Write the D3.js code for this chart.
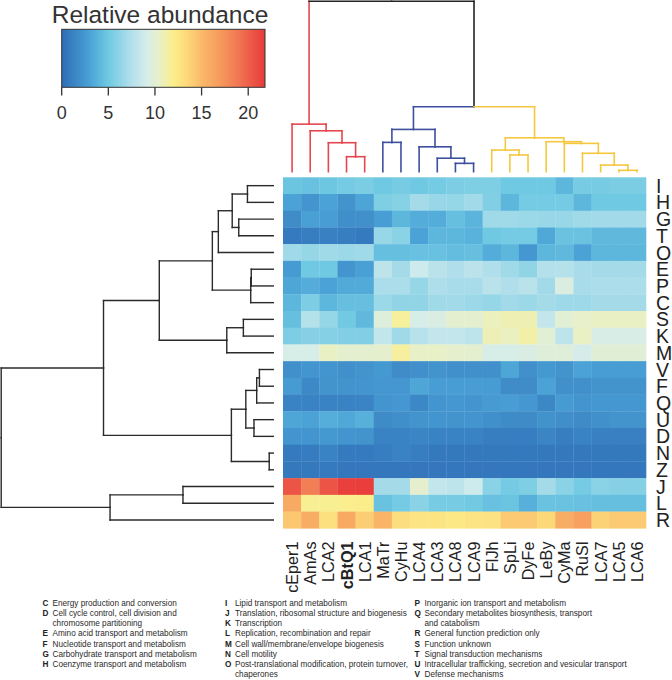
<!DOCTYPE html>
<html><head><meta charset="utf-8">
<script src="https://cdn.jsdelivr.net/npm/d3@7"></script>
<style>body{margin:0;background:#fff}svg{display:block}text{font-family:"Liberation Sans",Arial,Helvetica,sans-serif}</style>
</head><body><svg id="c" width="672" height="680"></svg>
<script>
// ---------- DATA ----------
const genomes = ["cEper1","AmAs","LCA2","cBtQ1","LCA1","MaTr","CyHu","LCA4","LCA3","LCA8","LCA9","FlJh","SpLi","DyFe","LeBy","CyMa","RuSl","LCA7","LCA5","LCA6"];
const boldGenomes = ["cBtQ1"];
const cogs = ["I","H","G","T","O","E","P","C","S","K","M","V","F","Q","U","D","N","Z","J","L","R"];
// relative abundance (%) per COG row (same order as cogs), columns in genome order
const abundance = [
  [4.8,4.6,4.9,5.2,5.4, 5.0,5.3,5.0,5.2,5.5,5.6, 5.6,5.0,5.0,5.0,4.0,5.3,5.3,5.4,5.4], // I
  [3.0,2.3,3.0,2.2,3.1, 5.6,5.9,7.0,6.5,6.4,6.9, 5.7,4.0,5.2,5.2,5.2,4.0,5.0,5.0,5.0], // H
  [1.8,2.9,2.8,1.9,2.0, 2.8,4.0,3.5,3.5,4.5,3.9, 6.8,6.8,6.6,6.5,6.5,6.8,6.9,6.9,6.9], // G
  [0.8,1.0,1.1,1.0,0.8, 6.5,6.0,3.0,4.0,4.0,3.8, 5.0,5.2,5.2,3.3,4.7,4.7,4.2,4.2,4.2], // T
  [6.8,6.4,6.8,6.6,6.8, 4.5,4.5,4.6,4.6,4.4,4.5, 3.5,4.0,2.4,4.0,4.2,3.0,4.0,4.0,4.0], // O
  [2.6,5.0,5.0,2.3,2.9, 8.0,7.0,8.7,7.8,7.4,7.9, 7.4,6.8,6.2,7.5,7.6,7.1,7.0,7.0,7.0], // E
  [3.2,3.5,3.0,3.4,3.4, 7.2,7.2,6.4,7.3,7.1,7.1, 7.8,7.4,7.8,6.9,9.5,7.1,7.2,7.2,7.2], // P
  [4.0,5.5,4.0,4.5,4.5, 6.6,6.2,6.2,6.8,6.9,6.6, 6.4,6.9,6.6,7.0,6.7,6.7,7.0,7.0,7.0], // C
  [4.5,7.6,6.4,5.1,4.2, 9.7,11.6,9.2,9.4,10.2,10.2, 10.8,11.0,11.0,8.2,10.0,10.4,10.6,10.6,10.6], // S
  [5.5,5.8,5.8,5.7,5.7, 8.2,6.8,7.7,8.2,8.2,8.0, 10.9,10.7,11.3,10.0,8.0,10.6,9.3,9.3,9.3], // K
  [9.2,9.2,10.6,10.2,10.2, 10.3,11.5,10.5,10.5,10.3,10.2, 9.2,9.2,9.4,9.8,9.8,9.1,9.9,9.9,9.9], // M
  [2.0,2.3,2.3,2.0,2.2, 2.5,1.8,2.0,2.2,2.0,2.0, 2.0,3.2,2.0,2.5,2.2,3.0,2.8,2.8,2.8], // V
  [2.6,1.6,2.2,2.2,2.3, 2.4,2.4,3.2,2.8,2.8,2.8, 2.7,1.8,1.8,3.0,2.0,2.0,2.2,2.2,2.2], // F
  [1.2,1.2,1.2,1.2,1.3, 2.3,2.4,1.5,2.3,2.4,2.3, 2.6,2.8,2.4,1.5,2.6,2.3,2.4,2.4,2.4], // Q
  [3.2,3.0,3.6,3.3,3.7, 1.7,1.9,2.2,2.3,2.2,2.3, 2.0,1.7,1.7,2.1,1.9,1.7,2.0,2.2,2.2], // U
  [2.3,2.3,2.5,2.3,2.2, 1.2,1.2,1.4,1.2,1.2,1.2, 1.0,1.0,1.0,1.4,1.0,1.2,1.1,1.1,1.1], // D
  [0.8,0.9,1.2,0.8,0.8, 1.0,1.2,1.0,0.7,0.7,0.7, 0.7,0.7,0.7,0.7,0.7,0.7,0.7,0.7,0.7], // N
  [0.7,0.7,0.8,0.6,0.6, 0.6,0.6,0.6,0.6,0.6,0.6, 0.6,0.6,0.6,0.6,0.6,0.6,0.6,0.6,0.6], // Z
  [20.5,18.5,20.5,21.5,21.6, 7.0,7.0,10.3,8.2,8.0,8.7, 6.0,5.2,5.6,7.0,6.0,5.2,6.0,5.8,5.8], // J
  [16.0,11.8,11.8,11.9,12.0, 4.7,5.2,6.0,5.3,5.3,5.1, 4.6,4.8,3.7,4.7,4.7,4.6,4.5,4.5,4.5], // L
  [14.3,15.8,13.0,16.0,14.0, 15.3,13.1,12.7,12.7,12.4,12.7, 12.8,14.2,14.2,13.5,15.8,16.6,13.8,14.2,14.2] // R
];
const legendTicks = [0,5,10,15,20];
const legendMax = 21.8;
const colorStopValues = [0,3,5,7.5,9,10.5,12,13.5,15,17,19,21.8];
const colorStopColors = ["#2e6cb6","#4aa2d6","#6fc9e2","#b3e0eb","#d4ecec","#e8f0c8","#fbee8a","#fdd879","#fab96a","#f69a5c","#f17553","#e83a3a"];

// column dendrogram (merge heights, arbitrary units; k = cluster)
const colTree = {h:100, c:[
  {h:27.9, k:1, c:["cEper1", {h:24.0, c:["AmAs", {h:17.0, c:["LCA2", {h:8.8, c:["cBtQ1","LCA1"]}]}]}]},
  {h:38.1, c:[
    {h:24.8, k:2, c:[{h:17.2, c:["MaTr","CyHu"]}, {h:14.6, c:["LCA4", {h:7.9, c:["LCA3", {h:4.9, c:["LCA8","LCA9"]}]}]}]},
    {h:19.9, k:3, c:[{h:12.7, c:["FlJh", {h:9.8, c:["SpLi","DyFe"]}]},
                     {h:17.6, c:["LeBy", {h:16.6, c:["CyMa", {h:10.8, c:["RuSl", {h:3.9, c:["LCA7", {h:0.8, c:["LCA5","LCA6"]}]}]}]}]}]}
  ]}
]};
// row dendrogram
const rowTree = {h:100, c:[
  {h:62.4, c:[
    {h:41.9, c:[
      {h:22.4, c:[
        {h:20.2, c:[{h:15.1, c:[{h:9.5, c:["I","H"]}, {h:12.7, c:["G","T"]}]}, "O"]},
        {h:8.3, c:[{h:8.1, c:["E","P"]}, "C"]}
      ]},
      {h:17.1, c:[{h:11.0, c:["S","K"]}, "M"]}
    ]},
    {h:15.4, c:[
      {h:10.1, c:[{h:6.1, c:[{h:5.1, c:["V","F"]}, "Q"]}, {h:7.1, c:["U","D"]}]},
      {h:1.5, c:["N","Z"]}
    ]}
  ]},
  {h:60.0, c:[{h:33.2, c:["J","L"]}, "R"]}
]};

const legendCols = [
  [["C","Energy production and conversion"],["D","Cell cycle control, cell division and","chromosome partitioning"],["E","Amino acid transport and metabolism"],["F","Nucleotide transport and metabolism"],["G","Carbohydrate transport and metabolism"],["H","Coenzyme transport and metabolism"]],
  [["I","Lipid transport and metabolism"],["J","Translation, ribosomal structure and biogenesis"],["K","Transcription"],["L","Replication, recombination and repair"],["M","Cell wall/membrane/envelope biogenesis"],["N","Cell motility"],["O","Post-translational modification, protein turnover,","chaperones"]],
  [["P","Inorganic ion transport and metabolism"],["Q","Secondary metabolites biosynthesis, transport","and catabolism"],["R","General function prediction only"],["S","Function unknown"],["T","Signal transduction mechanisms"],["U","Intracellular trafficking, secretion and vesicular transport"],["V","Defense mechanisms"]]
];

// ---------- DRAW ----------
const svg = d3.select("#c");
const clusterColor = {0:"#222222",1:"#e4474f",2:"#3e4f9d",3:"#f5c73e"};
const color = d3.scaleLinear().domain(colorStopValues).range(colorStopColors).interpolate(d3.interpolateRgb).clamp(true);

const x = d3.scaleBand().domain(genomes).range([283,646]);
const y = d3.scaleBand().domain(cogs).range([177.3,528.3]);

// heatmap
const cells = [];
abundance.forEach((row,i)=>row.forEach((v,j)=>cells.push({r:cogs[i],c:genomes[j],v})));
svg.append("g").selectAll("rect").data(cells).join("rect")
  .attr("x",d=>x(d.c)).attr("y",d=>y(d.r))
  .attr("width",x.bandwidth()+0.3).attr("height",y.bandwidth()+0.3)
  .attr("fill",d=>color(d.v));

// column labels
svg.append("g").selectAll("text").data(genomes).join("text")
  .attr("transform",d=>`translate(${x(d)+x.bandwidth()/2+6},541.5) rotate(-90)`)
  .attr("text-anchor","end").attr("font-size",16.2).attr("fill","#222")
  .attr("font-weight",d=>boldGenomes.includes(d)?"bold":"normal")
  .text(d=>d);

// row labels
svg.append("g").selectAll("text").data(cogs).join("text")
  .attr("x",656).attr("y",d=>y(d)+y.bandwidth()/2+7)
  .attr("font-size",19.5).attr("fill","#222").text(d=>d);

// dendrogram layout helper
function layout(node, pos, parentK){
  if (typeof node === "string") return {leaf:node, h:0, p:pos(node), k:parentK};
  const k = node.k !== undefined ? node.k : parentK;
  const kids = node.c.map(ch=>layout(ch,pos,k));
  return {h:node.h, p:d3.mean(kids,d=>d.p), k, kids};
}
function segments(n, out, isRoot){
  if (!n.kids) return out;
  n.kids.forEach(ch=>{
    out.push({type:"v", p:ch.p, h0:ch.h, h1:n.h, k:ch.k});
    out.push({type:"h", p0:n.p, p1:ch.p, h:n.h, k:isRoot?n.k:ch.k});
    segments(ch,out,false);
  });
  return out;
}
// column dendrogram
const colRoot = layout(colTree, g=>x(g)+x.bandwidth()/2, 0);
const ch = d3.scaleLinear().domain([0,100]).range([171.7,1.2]);
const colSegs = segments(colRoot, [], true);
svg.append("g").attr("fill","none").attr("stroke-width",1.6).attr("stroke-linecap","square")
  .selectAll("path").data(colSegs).join("path")
  .attr("stroke",d=>clusterColor[d.k])
  .attr("d",d=>d.type==="v" ? `M${d.p},${ch(d.h0)}V${ch(d.h1)}` : `M${d.p0},${ch(d.h)}H${d.p1}`);

// row dendrogram
const rowRoot = layout(rowTree, r=>y(r)+y.bandwidth()/2, 0);
const rh = d3.scaleLinear().domain([0,100]).range([273.3,1.2]);
const rowSegs = segments(rowRoot, [], true);
svg.append("g").attr("fill","none").attr("stroke","#2a2a2a").attr("stroke-width",1.4).attr("stroke-linecap","square")
  .selectAll("path").data(rowSegs).join("path")
  .attr("d",d=>d.type==="v" ? `M${rh(d.h0)},${d.p}H${rh(d.h1)}` : `M${rh(d.h)},${d.p0}V${d.p1}`);

// color key
const kx = d3.scaleLinear().domain([0,legendMax]).range([61.7,265]);
const grad = svg.append("defs").append("linearGradient").attr("id","kg").attr("x1","0%").attr("x2","100%");
d3.range(0,41).forEach(i=>{
  const v = legendMax*i/40;
  grad.append("stop").attr("offset",(i/40*100)+"%").attr("stop-color",color(v));
});
svg.append("rect").attr("x",kx(0)).attr("y",29.3).attr("width",kx(legendMax)-kx(0)).attr("height",58)
  .attr("fill","url(#kg)").attr("stroke","#333").attr("stroke-width",1);
const tg = svg.append("g").selectAll("g").data(legendTicks).join("g");
tg.append("line").attr("x1",d=>kx(d)).attr("x2",d=>kx(d)).attr("y1",87.3).attr("y2",95.5)
  .attr("stroke","#333").attr("stroke-width",1.3);
tg.append("text").attr("x",d=>kx(d)).attr("y",118.5).attr("text-anchor","middle")
  .attr("font-size",18).attr("fill","#333").text(d=>d);
svg.append("text").attr("x",160).attr("y",23).attr("text-anchor","middle")
  .attr("font-size",24.5).attr("fill","#333").text("Relative abundance");

// category legend
const lgX = [[42.5,52.5],[225,235],[414.5,424.5]];
legendCols.forEach((col,ci)=>{
  let line = 0;
  col.forEach(item=>{
    const [letter, ...rest] = item;
    rest.forEach((txt,li)=>{
      const yy = 605.5 + line*10.25;
      if (li===0) svg.append("text").attr("x",lgX[ci][0]).attr("y",yy).attr("font-size",8.2)
        .attr("font-weight","bold").attr("fill","#222").text(letter);
      svg.append("text").attr("x",lgX[ci][1]).attr("y",yy).attr("font-size",8.2).attr("fill","#2a2a2a").text(txt);
      line++;
    });
  });
});
</script></body></html>
